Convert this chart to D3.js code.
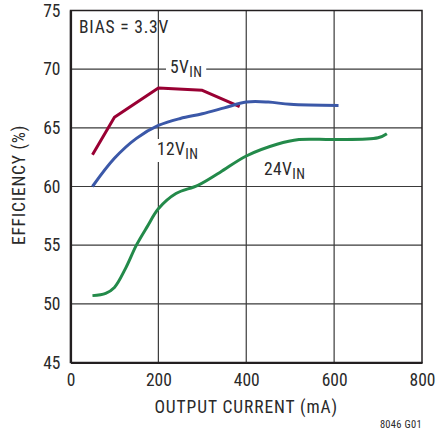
<!DOCTYPE html>
<html>
<head>
<meta charset="utf-8">
<script src="https://cdn.jsdelivr.net/npm/d3@7"></script>
<style>
  html, body { margin: 0; padding: 0; background: #fff; }
  svg { display: block; }
  text { font-family: "Liberation Sans Narrow", "Roboto Condensed", "Liberation Sans", Arial, sans-serif; fill: #2a2a2a; }
</style>
</head>
<body>
<svg id="chart" width="437" height="435"></svg>
<script>
// Efficiency vs output current at three input voltages (BIAS = 3.3V)
const xTicks = [0, 200, 400, 600, 800];
const yTicks = [45, 50, 55, 60, 65, 70, 75];

const current5V = [50, 100, 200, 300, 385];
const eff5V     = [62.7, 65.9, 68.4, 68.2, 66.8];

const current12V = [50, 100, 150, 200, 250, 300, 350, 400, 450, 500, 610];
const eff12V     = [60.0, 62.4, 64.1, 65.2, 65.8, 66.2, 66.7, 67.2, 67.2, 67.0, 66.9];

const current24V = [50, 80, 100, 125, 150, 175, 200, 240, 290, 340, 400, 470, 520, 600, 700, 720];
const eff24V     = [50.7, 50.9, 51.4, 53.0, 55.0, 56.6, 58.1, 59.4, 60.1, 61.2, 62.6, 63.6, 64.0, 64.0, 64.15, 64.5];

const seriesNames = ["5V", "12V", "24V"];

const svg = d3.select("#chart");
const plotL = 70.5, plotR = 422, plotT = 10.5, plotB = 362.5;

const x = d3.scaleLinear().domain([0, 800]).range([plotL, plotR]);
const y = d3.scaleLinear().domain([45, 75]).range([plotB, plotT]);

// grid
const grid = svg.append("g").attr("stroke", "#3a3a3a").attr("stroke-width", 1.2);
grid.selectAll("line.v").data(xTicks.slice(1, -1)).join("line").attr("class", "v")
  .attr("x1", d => x(d)).attr("x2", d => x(d)).attr("y1", plotT).attr("y2", plotB);
grid.selectAll("line.h").data(yTicks.slice(1, -1)).join("line").attr("class", "h")
  .attr("x1", plotL).attr("x2", plotR).attr("y1", d => y(d)).attr("y2", d => y(d));

// frame
svg.append("rect").attr("x", plotL).attr("y", plotT).attr("width", plotR - plotL).attr("height", plotB - plotT)
  .attr("fill", "none").attr("stroke", "#231f20").attr("stroke-width", 1.5);

// axes (labels only)
const xAxis = svg.append("g").attr("transform", `translate(0,${plotB})`)
  .call(d3.axisBottom(x).tickValues(xTicks).tickSize(0).tickPadding(11).tickFormat(d3.format("d")));
const yAxis = svg.append("g").attr("transform", `translate(${plotL},0)`)
  .call(d3.axisLeft(y).tickValues(yTicks).tickSize(0).tickPadding(10).tickFormat(d3.format("d")));
[xAxis, yAxis].forEach(a => {
  a.select(".domain").attr("stroke", "#231f20").attr("stroke-width", 2.2);
  a.selectAll("text").style("font-size", "17.5px").attr("fill", "#2a2a2a");
});

// series labels with white backing
function label(tx, ty, main, sub, pad) {
  const g = svg.append("g");
  const bg = g.append("rect").attr("fill", "#fff");
  const t = g.append("text").attr("x", tx).attr("y", ty).style("font-size", "17.5px")
    .style("letter-spacing", "0.4px");
  t.append("tspan").text(main);
  t.append("tspan").attr("dy", 4).style("font-size", "14px").text(sub);
  const bb = t.node().getBBox();
  bg.attr("x", bb.x - pad).attr("y", bb.y).attr("width", bb.width + 2 * pad).attr("height", bb.height);
}

const line = d3.line().x(d => x(d[0])).y(d => y(d[1]));
const data = [
  { pts: d3.zip(current5V, eff5V), color: "#990033", curve: d3.curveLinear },
  { pts: d3.zip(current12V, eff12V), color: "#3b58a8", curve: d3.curveCatmullRom.alpha(0.5) },
  { pts: d3.zip(current24V, eff24V), color: "#238a4a", curve: d3.curveCatmullRom.alpha(0.5) }
];

label(170, 73, seriesNames[0], "IN", 4);
label(157, 155, seriesNames[1], "IN", 1);
label(264, 175, seriesNames[2], "IN", 1);

data.forEach(s => {
  svg.append("path").datum(s.pts)
    .attr("d", line.curve(s.curve))
    .attr("fill", "none").attr("stroke", s.color).attr("stroke-width", 3)
    .attr("stroke-linejoin", "round");
});

// BIAS note
svg.append("text").attr("x", 79).attr("y", 33).style("font-size", "17.5px")
  .style("letter-spacing", "0.8px").text("BIAS = 3.3V");

// axis titles
svg.append("text").attr("x", (plotL + plotR) / 2).attr("y", 413).attr("text-anchor", "middle")
  .style("font-size", "17.5px").style("letter-spacing", "0.9px").text("OUTPUT CURRENT (mA)");
svg.append("text").attr("transform", "translate(25,185) rotate(-90)").attr("text-anchor", "middle")
  .style("font-size", "17.5px").style("letter-spacing", "0.8px").text("EFFICIENCY (%)");

svg.append("text").attr("x", 422).attr("y", 428).attr("text-anchor", "end")
  .style("font-size", "10.5px").style("letter-spacing", "0.3px").text("8046 G01");
</script>
</body>
</html>
